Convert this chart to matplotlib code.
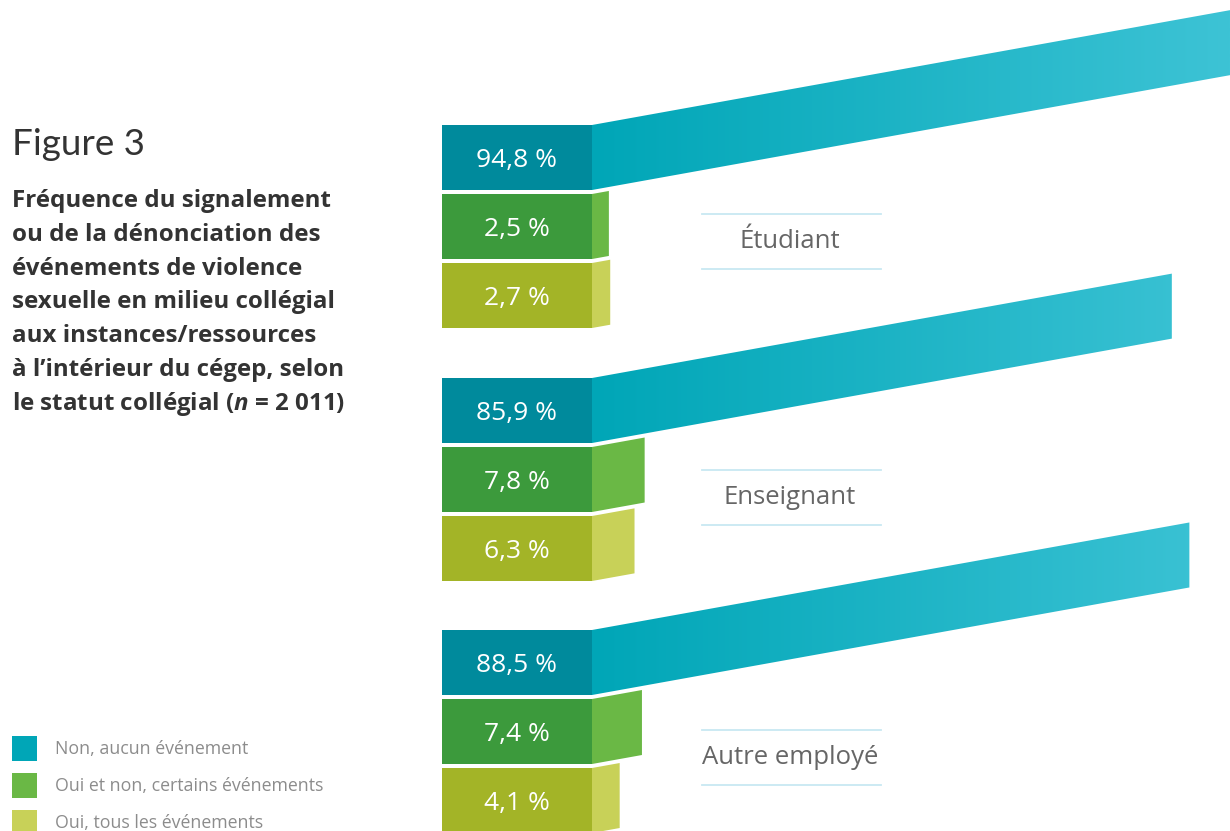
import matplotlib
matplotlib.use('Agg')
import matplotlib.pyplot as plt
from matplotlib.patches import Polygon, Rectangle
from matplotlib.colors import to_rgb
import numpy as np

###################
# données
###################

groupes = ['Étudiant', 'Enseignant', 'Autre employé']
non_aucun = [94.8, 85.9, 88.5]
oui_non_certains = [2.5, 7.8, 7.4]
oui_tous = [2.7, 6.3, 4.1]
series = ['Non, aucun événement', 'Oui et non, certains événements', 'Oui, tous les événements']

titre = 'Figure 3'
sous_titre = [
    'Fréquence du signalement',
    'ou de la dénonciation des',
    'événements de violence',
    'sexuelle en milieu collégial',
    'aux instances/ressources',
    'à l’intérieur du cégep, selon',
    r'le statut collégial ($\mathit{n}$ = 2 011)',
]

###################
# style
###################

plt.rcParams['font.family'] = ['Open Sans', 'DejaVu Sans']
plt.rcParams['mathtext.fontset'] = 'custom'
plt.rcParams['mathtext.it'] = 'Open Sans:italic:bold'
plt.rcParams['mathtext.rm'] = 'Open Sans:bold'

face = ['#008A9C', '#3C9A3C', '#A3B427']       # face avant
cote = [None, '#6AB845', '#C8D158']            # face oblique
teal0, teal1 = '#00A6B7', '#3DC3D5'            # dégradé du teal

W, H = 1230, 831
BOX_X0, BOX_X1 = 442, 592
BOX_H, GAP = 65, 4
TOPS = [125, 378, 630]
LABEL_Y = [242, 498, 758]
PX = 6.75      # pixels par point de %
PENTE = 0.18

fig = plt.figure(figsize=(W / 100, H / 100), dpi=100)
ax = fig.add_axes([0, 0, 1, 1])

# dégradé horizontal pour les barres teal
n = 256
c0, c1 = np.array(to_rgb(teal0)), np.array(to_rgb(teal1))
grad = np.linspace(0, 1, n)[:, None] * (c1 - c0) + c0
grad = grad[None, :, :]

for g in range(len(groupes)):
    vals = [non_aucun[g], oui_non_certains[g], oui_tous[g]]
    for r in range(3):
        top = TOPS[g] + r * (BOX_H + GAP)
        L = vals[r] * PX
        pts = [(BOX_X1, top), (BOX_X1 + L, top - PENTE * L),
               (BOX_X1 + L, top + BOX_H - PENTE * L), (BOX_X1, top + BOX_H)]
        if r == 0:
            poly = Polygon(pts, closed=True, facecolor='none', edgecolor='none')
            ax.add_patch(poly)
            im = ax.imshow(grad, extent=(BOX_X1, W, H, 0), aspect='auto',
                           interpolation='bilinear', zorder=1)
            im.set_clip_path(poly)
        else:
            ax.add_patch(Polygon(pts, closed=True, facecolor=cote[r],
                                 edgecolor='none', zorder=1))
        ax.add_patch(Rectangle((BOX_X0, top), BOX_X1 - BOX_X0, BOX_H,
                               facecolor=face[r], edgecolor='none', zorder=2))
        txt = f'{vals[r]:.1f}'.replace('.', ',') + ' %'
        ax.text((BOX_X0 + BOX_X1) / 2, top + BOX_H / 2 + 3, txt, color='white',
                fontsize=19, ha='center', va='center', zorder=3)

    # étiquette de groupe avec deux filets
    y = LABEL_Y[g]
    for dy in (-28, 27):
        ax.plot([702, 881], [y + dy, y + dy], color='#C8E8F2', lw=1.3)
    ax.text(790, y, groupes[g], color='#666666', fontsize=18.5,
            ha='center', va='center')

# titre
ax.text(12, 155, titre, color='#333333', fontsize=26.5, ha='left', va='baseline',
        family=['Lato', 'DejaVu Sans'])
for i, ligne in enumerate(sous_titre):
    ax.text(12, 207 + i * 33.8, ligne, color='#333333', fontsize=17.4,
            fontweight='bold', ha='left', va='baseline')

# légende
for i, nom in enumerate(series):
    yc = 748 + i * 37
    ax.add_patch(Rectangle((12, yc - 12.5), 25, 25, facecolor=cote[i] if i else teal0,
                           edgecolor='none'))
    ax.text(55, yc + 1, nom, color='#8C8C8C', fontsize=12.8, ha='left', va='center')

ax.set_xlim(0, W)
ax.set_ylim(H, 0)
ax.axis('off')
fig.savefig('out.png', dpi=100)
